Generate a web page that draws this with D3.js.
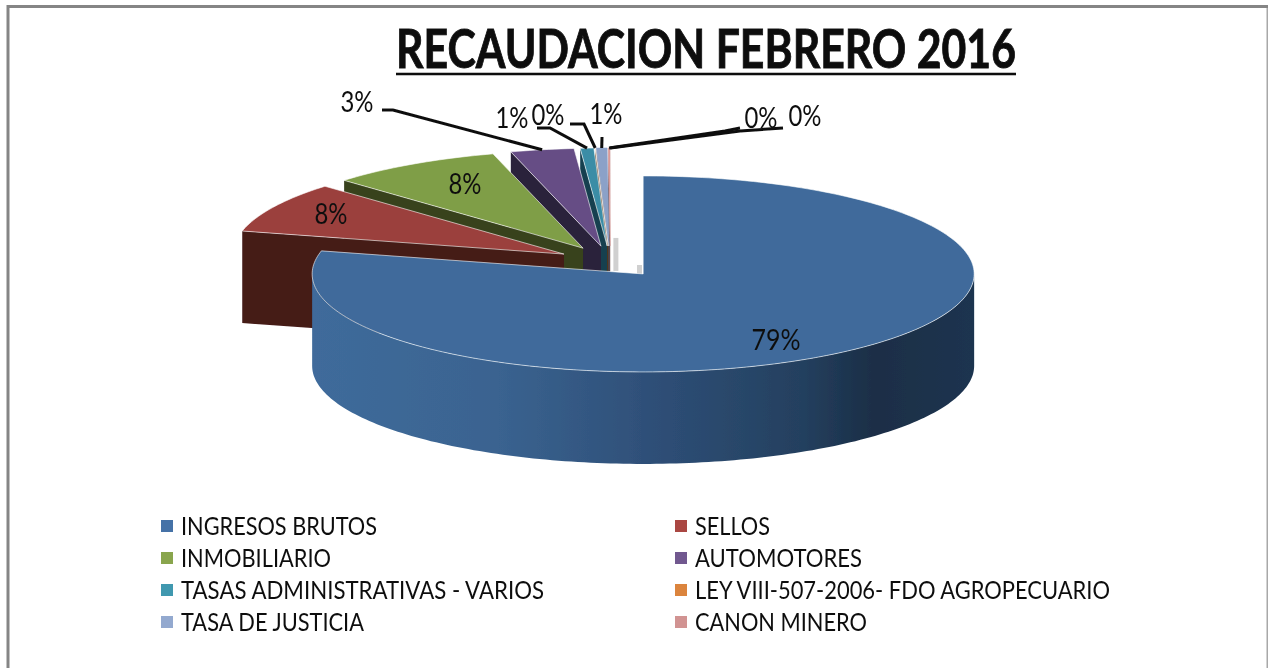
<!DOCTYPE html>
<html>
<head>
<meta charset="utf-8">
<script src="https://cdn.jsdelivr.net/npm/d3@7"></script>
<style>
  html, body { margin: 0; padding: 0; background: white; overflow: hidden; }
  svg { display: block; }
  text { font-family: Lato, "Open Sans", sans-serif; fill: #111; }
</style>
</head>
<body>
<div id="container"></div>
<script>
let w = 1268;
let h = 668;

// DATA
let categories = ["INGRESOS BRUTOS", "SELLOS", "INMOBILIARIO", "AUTOMOTORES",
  "TASAS ADMINISTRATIVAS - VARIOS", "LEY VIII-507-2006- FDO AGROPECUARIO",
  "TASA DE JUSTICIA", "CANON MINERO", ""];
let values = [78.78, 8.38, 8.45, 3.09, 0.66, 0.02, 0.52, 0.09, 0.01];

// colours per slice
let legendColors = ["#4572a7", "#aa4643", "#89a54e", "#71588f", "#4198af", "#db843d", "#93a9cf", "#d19392", "#eeeeee"];
let topColors = ["#3f6b9b", "#9b3f3d", "#7f9e46", "#664e85", "#3b8da6", "#c97a38", "#8ba1c8", "#d99a98", "#eeeeee"];
let wallColors = ["#2f5079", "#451a17", "#38431c", "#2b213b", "#174050", "#5a3312", "#3c4a63", "#5f3f3e", "#dddddd"];

// label layout: [x, y] of each percent text, and elbow of its leader (null = no leader)
let labelSpots = [[776, 340], [331, 214], [465, 184], [357, 102], [512, 118], [548, 115], [606, 114], [761, 118], [805, 116]];
let leaderStart = [null, null, null, [382, 110], [537, 128], [570, 124], [602, 137], [740, 128], [783, 128]];
let leaderElbow = [null, null, null, [393, 110], [550, 128], [584, 124], [602, 137], [725, 131], [740, 131]];
let legendWidths = [196, 75, 150, 167, 363, 415, 183, 172];

// pie geometry
let cx = 610.4, cy = 261.6, rx = 331, ry = 98;
let explode = 0.16;
let depth = 92;

let viz = d3.select("#container").append("svg")
  .attr("width", w)
  .attr("height", h)
  .style("background-color", "white");

let defs = viz.append("defs");

// the source picture is a soft screenshot
defs.append("filter").attr("id", "soft")
  .append("feGaussianBlur").attr("stdDeviation", 0.45);

let wallGradient = defs.append("linearGradient")
  .attr("id", "blueWall")
  .attr("gradientUnits", "userSpaceOnUse")
  .attr("x1", 312).attr("x2", 974).attr("y1", 0).attr("y2", 0);
[[0, "#3f6b9b"], [0.28, "#3a6390"], [0.5, "#2f5079"], [0.74, "#24405f"], [0.85, "#1a2e46"], [1, "#1c3450"]].forEach(s => {
  wallGradient.append("stop").attr("offset", s[0]).attr("stop-color", s[1]);
});

let chart = viz.append("g").attr("filter", "url(#soft)");

// frame
chart.append("path")
  .attr("d", "M8 " + h + " V6.5 H" + w)
  .attr("fill", "none")
  .attr("stroke", "#858585")
  .attr("stroke-width", 3);
chart.append("line")
  .attr("x1", w - 0.5).attr("x2", w - 0.5).attr("y1", 8).attr("y2", h)
  .attr("stroke", "#a8a8a8")
  .attr("stroke-width", 2);

// title
chart.append("text")
  .attr("x", 396)
  .attr("y", 68)
  .attr("font-size", 53)
  .attr("font-weight", 700)
  .attr("textLength", 620)
  .attr("lengthAdjust", "spacingAndGlyphs")
  .attr("stroke", "#111")
  .attr("stroke-width", 0.9)
  .text("RECAUDACION FEBRERO 2016");
chart.append("line")
  .attr("x1", 396).attr("x2", 1016).attr("y1", 74).attr("y2", 74)
  .attr("stroke", "#111")
  .attr("stroke-width", 2.5);

// scales go from unit pie coordinates to the flattened picture
let xScale = d3.scaleLinear().domain([-1, 1]).range([cx - rx, cx + rx]);
let yScale = d3.scaleLinear().domain([-1, 1]).range([cy + ry, cy - ry]);

let pieMaker = d3.pie().sort(null).startAngle(0).endAngle(2 * Math.PI);
let slices = pieMaker(values);
let total = d3.sum(values);
let pct = d3.format(".0%");

function project(s, angle, r, z) {
  let mid = (s.startAngle + s.endAngle) / 2;
  return [
    xScale(explode * Math.sin(mid) + r * Math.sin(angle)),
    yScale(explode * Math.cos(mid) + r * Math.cos(angle)) + z
  ];
}

function arcPoints(s, a0, a1, z) {
  let n = Math.max(2, Math.ceil(Math.abs(a1 - a0) / 0.02));
  return d3.range(n + 1).map(i => project(s, a0 + (a1 - a0) * i / n, 1, z));
}

let lineMaker = d3.line();

function topPath(s) {
  return lineMaker([project(s, 0, 0, 0)].concat(arcPoints(s, s.startAngle, s.endAngle, 0))) + "Z";
}

// side of the cut at the start of the slice
function cutPath(s) {
  return lineMaker([
    project(s, s.startAngle, 0, 0),
    project(s, s.startAngle, 1, 0),
    project(s, s.startAngle, 1, depth),
    project(s, s.startAngle, 0, depth)
  ]) + "Z";
}

// outer wall, only the half that faces us
function wallPath(s) {
  let a0 = Math.max(s.startAngle, Math.PI / 2);
  let a1 = Math.min(s.endAngle, 3 * Math.PI / 2);
  if (a1 <= a0) return null;
  return lineMaker(arcPoints(s, a0, a1, 0).concat(arcPoints(s, a1, a0, depth))) + "Z";
}

// small grey leftovers behind the slices
let last = slices[slices.length - 1];
let apex = project(last, 0, 0, 0);
chart.append("rect")
  .attr("x", apex[0] + 3).attr("y", apex[1] - 8)
  .attr("width", 5).attr("height", 33)
  .attr("fill", "#d0d0d0");
chart.append("rect")
  .attr("x", 637).attr("y", 265)
  .attr("width", 5).attr("height", 9)
  .attr("fill", "#d0d0d0");

// back to front, the big slice last
let drawOrder = slices.slice().reverse();

let sliceGroups = chart.selectAll(".slice").data(drawOrder).enter()
  .append("g")
  .attr("class", "slice");

sliceGroups.filter(d => d.index != 0).append("path")
  .attr("d", cutPath)
  .attr("fill", d => wallColors[d.index]);

sliceGroups.filter(d => wallPath(d) != null).append("path")
  .attr("d", wallPath)
  .attr("fill", d => d.index == 0 ? "url(#blueWall)" : wallColors[d.index]);

// thin slices would vanish under the white edge
sliceGroups.append("path")
  .attr("d", topPath)
  .attr("fill", d => topColors[d.index])
  .attr("stroke", d => d.index >= 6 ? topColors[d.index] : "white")
  .attr("stroke-opacity", 0.6)
  .attr("stroke-width", d => d.index >= 6 ? 0.8 : 1);

// leaders
chart.selectAll(".leader").data(slices.filter(d => leaderStart[d.index])).enter()
  .append("path")
  .attr("class", "leader")
  .attr("d", d => {
    let mid = (d.startAngle + d.endAngle) / 2;
    return lineMaker([leaderStart[d.index], leaderElbow[d.index], project(d, mid, 1, 0)]);
  })
  .attr("fill", "none")
  .attr("stroke", "#111")
  .attr("stroke-width", 3);

// percent labels
chart.selectAll(".pct").data(slices).enter()
  .append("text")
  .attr("class", "pct")
  .attr("x", d => labelSpots[d.index][0])
  .attr("y", d => labelSpots[d.index][1])
  .attr("dy", "0.36em")
  .attr("text-anchor", "middle")
  .attr("font-size", 29)
  .attr("textLength", d => pct(d.data / total).length == 3 ? 49 : 33)
  .attr("lengthAdjust", "spacingAndGlyphs")
  .text(d => pct(d.data / total));

// legend, filled row by row in two columns
let legendData = categories.map((c, i) => ({ name: c, color: legendColors[i], i: i })).filter(d => d.name != "");
let colX = d3.scaleOrdinal().domain([0, 1]).range([161, 675]);
let rowY = d3.scalePoint().domain(d3.range(4)).range([526, 622]);

let legend = chart.selectAll(".legend").data(legendData).enter()
  .append("g")
  .attr("class", "legend")
  .attr("transform", d => "translate(" + colX(d.i % 2) + "," + rowY(Math.floor(d.i / 2)) + ")");

legend.append("rect")
  .attr("x", 0).attr("y", -6)
  .attr("width", 12).attr("height", 12)
  .attr("fill", d => d.color);

legend.append("text")
  .attr("x", 20)
  .attr("dy", "0.36em")
  .attr("font-size", 25.5)
  .attr("textLength", d => legendWidths[d.i])
  .attr("lengthAdjust", "spacingAndGlyphs")
  .text(d => d.name);
</script>
</body>
</html>
